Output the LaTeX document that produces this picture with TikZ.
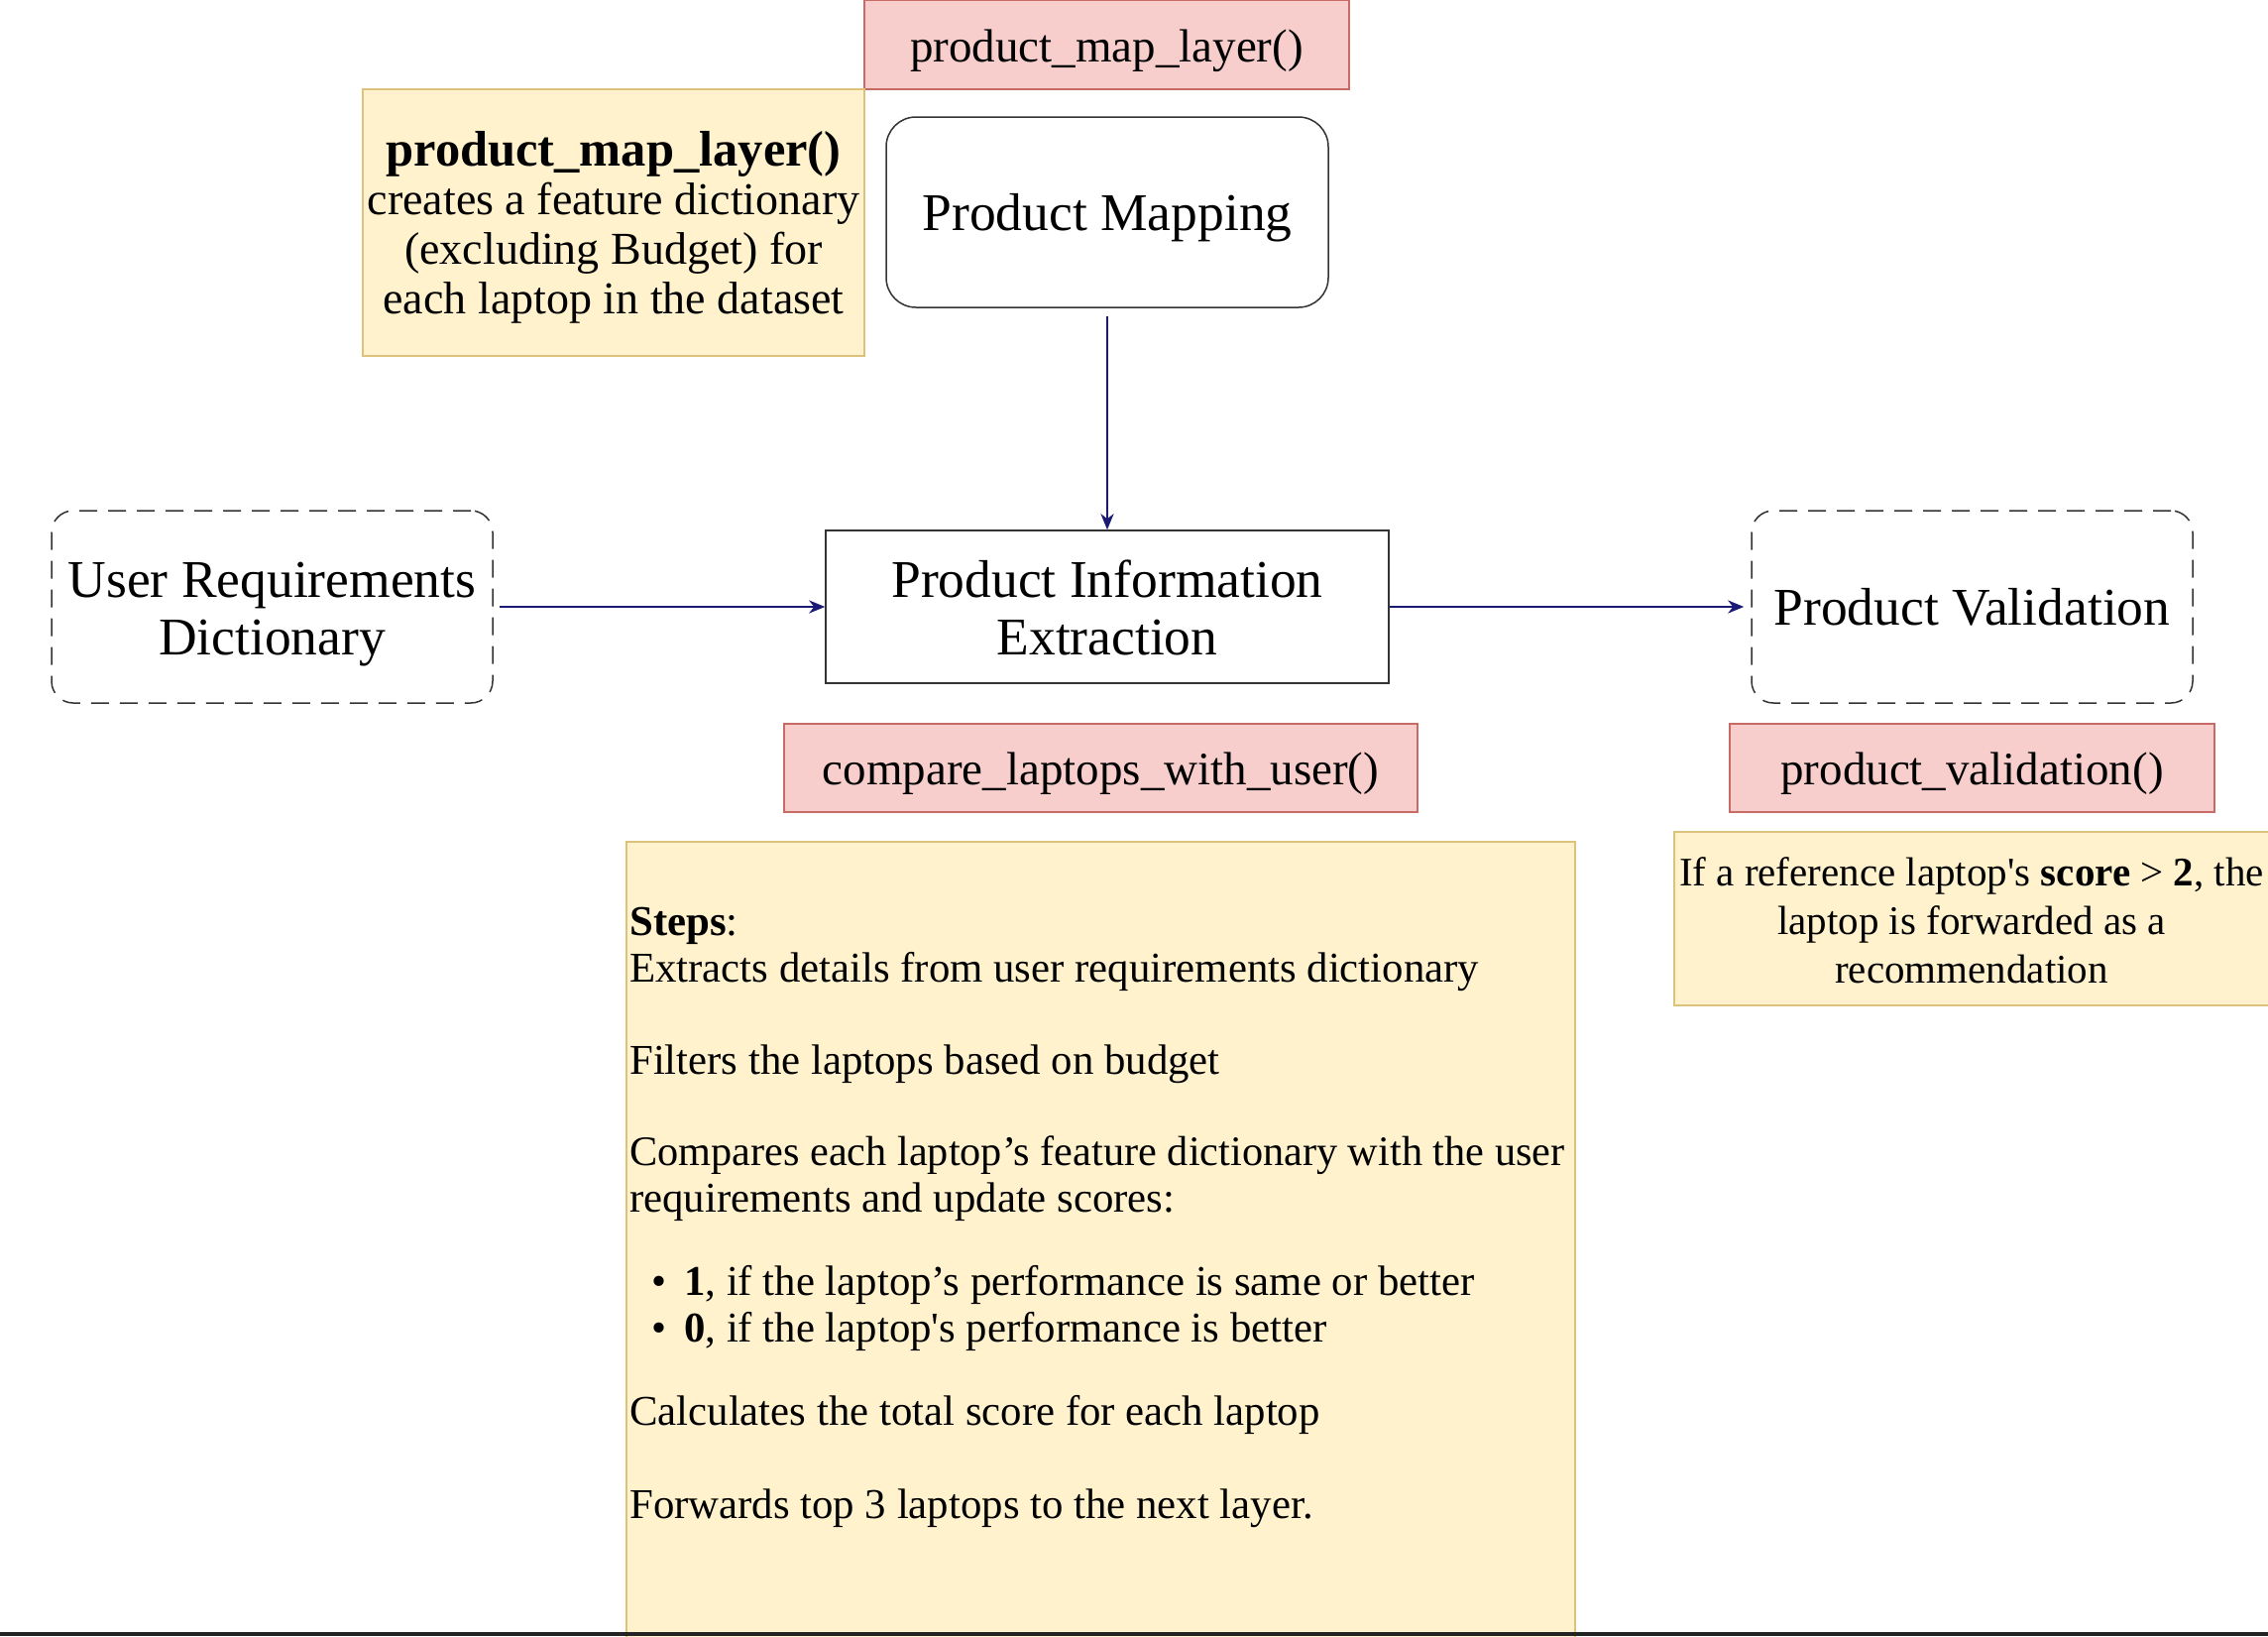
\documentclass[tikz,border=0pt]{standalone}
\usepackage{fontspec}
\setmainfont{Liberation Serif}
\usetikzlibrary{arrows.meta}
\definecolor{pinkfill}{HTML}{F8CECC}
\definecolor{pinkdraw}{HTML}{C86A66}
\definecolor{yelfill}{HTML}{FFF2CC}
\definecolor{yeldraw}{HTML}{DCC27A}
\definecolor{navy}{HTML}{1A1A75}
\definecolor{darkline}{HTML}{232323}
\newcommand{\sz}[2]{\fontsize{#1}{#2}\selectfont}
\begin{document}
\begin{tikzpicture}[x=1pt,y=-1pt,
  boxbase/.style={line width=1.5pt,inner sep=0pt,align=center},
  pinkbox/.style={boxbase,draw=pinkdraw,fill=pinkfill},
  yelbox/.style={boxbase,draw=yeldraw,fill=yelfill},
  plainbox/.style={boxbase,draw=black!80},
  dashbox/.style={boxbase,draw=black!80,dash pattern=on 18pt off 11pt,rounded corners=22pt},
  labeltext/.style={inner sep=0pt,align=center,font=\sz{47pt}{56pt}},
  bigtext/.style={inner sep=0pt,align=center,font=\sz{53.5pt}{58pt}},
  conn/.style={draw=navy,line width=2.8pt,-{Stealth[length=16pt,width=13pt,inset=5pt]}},
  steptext/.style={anchor=mid west,inner sep=0pt,font=\sz{42.8pt}{47pt}}
]
\useasboundingbox (0,0) rectangle (2288,1650);
\fill[white] (0,0) rectangle (2288,1650);

% top label
\node[pinkbox,minimum width=489pt,minimum height=90pt] (maplabel) at (1116.5,45) {};
\node[labeltext] (maplabeltext) at (1116.5,51) {product\_map\_layer()};

% note left of product mapping
\node[yelbox,minimum width=506pt,minimum height=269pt] (mapnote) at (619,224.5) {};
\node[inner sep=0pt,align=center,font=\sz{46pt}{49.6pt}] (mapnotetext) at (619,229)
  {{\sz{50.5pt}{49.6pt}\textbf{product\_map\_layer()}}\\creates a feature dictionary\\(excluding Budget) for\\each laptop in the dataset};

% product mapping
\node[plainbox,rounded corners=30pt,minimum width=446pt,minimum height=192pt] (pm) at (1117,214) {};
\node[bigtext] (pmtext) at (1117,220) {Product Mapping};

% product information extraction
\node[plainbox,minimum width=568pt,minimum height=154pt] (pie) at (1117,612) {};
\node[bigtext] (pietext) at (1117,613) {Product Information\\Extraction};

% user requirements
\node[dashbox,minimum width=445pt,minimum height=194pt] (urd) at (274.5,612) {};
\node[bigtext] (urdtext) at (274.5,620) {User Requirements\\Dictionary};

% product validation
\node[dashbox,minimum width=445pt,minimum height=194pt] (pv) at (1989.5,612) {};
\node[bigtext] (pvtitle) at (1989.5,612) {Product Validation};

% function labels
\node[pinkbox,minimum width=639pt,minimum height=89pt] (cmplabel) at (1110.5,774.5) {};
\node[labeltext] (cmptext) at (1110.5,780.5) {compare\_laptops\_with\_user()};
\node[pinkbox,minimum width=489pt,minimum height=89pt] (pvlabel) at (1989.5,774.5) {};
\node[labeltext] (pvlabeltext) at (1989.5,780.5) {product\_validation()};

% steps note
\node[yelbox,minimum width=957pt,minimum height=815pt] (stepsnote) at (1110.5,1256.5) {};
\node[steptext] (s1) at (635,941) {\textbf{Steps}:};
\node[steptext] (s2) at (635,988) {Extracts details from user requirements dictionary};
\node[steptext] (s3) at (635,1081) {Filters the laptops based on budget};
\node[steptext,font=\sz{42.3pt}{47pt}] (s4) at (635,1173) {Compares each laptop’s feature dictionary with the user};
\node[steptext] (s5) at (635,1220) {requirements and update scores:};
\node[steptext] (b1) at (657,1304) {•};
\node[steptext] (s6) at (690,1304) {\textbf{1}, if the laptop’s performance is same or better};
\node[steptext] (b2) at (657,1351) {•};
\node[steptext] (s7) at (690,1351) {\textbf{0}, if the laptop\textquotesingle s performance is better};
\node[steptext] (s8) at (635,1435) {Calculates the total score for each laptop};
\node[steptext] (s9) at (635,1529) {Forwards top 3 laptops to the next layer.};

% validation note
\node[yelbox,minimum width=601pt,minimum height=175pt] (pvnote) at (1989.5,926.5) {};
\node[inner sep=0pt,align=center,font=\sz{41pt}{49pt}] (pvtext) at (1989,928)
  {If a reference laptop\textquotesingle s \textbf{score} > \textbf{2}, the\\laptop is forwarded as a\\recommendation};

% connectors
\draw[conn,shorten <=8pt] (pm.south) -- (pie.north);
\draw[conn,shorten <=6pt] (urd.east) -- (pie.west);
\draw[conn,shorten >=7pt] (pie.east) -- (pv.west);

% bottom edge line
\fill[darkline] (0,1646) rectangle (2288,1650);
\end{tikzpicture}
\end{document}
